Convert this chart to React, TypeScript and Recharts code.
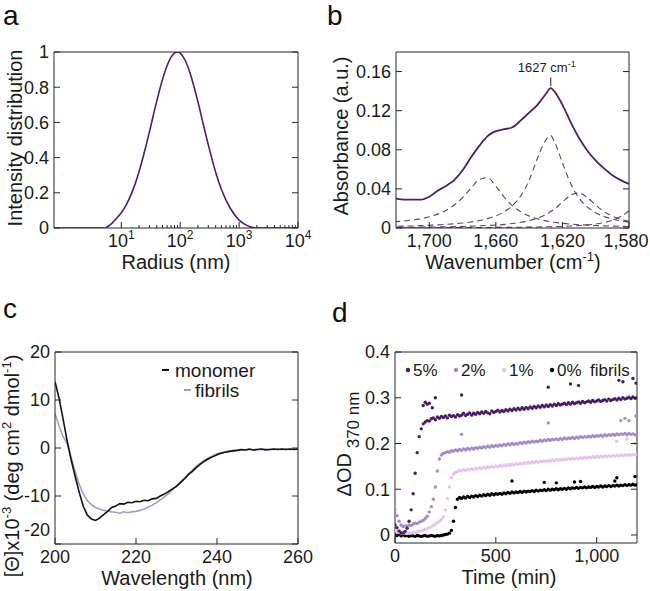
import React from "react";
import {
  LineChart,
  Line,
  ScatterChart,
  Scatter,
  XAxis,
  YAxis,
  ReferenceLine,
} from "recharts";

const FONT = '"Liberation Sans", Arial, Helvetica, sans-serif';
const INK = "#262626";
const PURPLE = "#4a1f6e";
const DASHED = "#5b3f80";

// a: size distribution
const radiusNm = [0.72, 1, 2, 3, 4, 5, 5.5, 6, 7, 8, 10, 12, 15, 20, 25, 30, 40, 50, 60, 70, 80, 90, 100, 120, 150, 200, 250, 300, 400, 500, 700, 1000, 1300, 1600, 1900, 3000, 10000];
const intensity = [0, 0, 0, 0, 0, 0, 0.002, 0.01, 0.028, 0.05, 0.087, 0.129, 0.198, 0.32, 0.439, 0.546, 0.721, 0.843, 0.923, 0.971, 0.994, 1.0, 0.993, 0.956, 0.871, 0.717, 0.581, 0.472, 0.317, 0.22, 0.115, 0.045, 0.018, 0.005, 0, 0, 0];
const radiusMajor = [10, 100, 1000, 10000];
const radiusMinor = [20, 30, 40, 50, 60, 70, 80, 90, 200, 300, 400, 500, 600, 700, 800, 900, 2000, 3000, 4000, 5000, 6000, 7000, 8000, 9000];
const intensityTicks = [0, 0.2, 0.4, 0.6, 0.8, 1];

// b: FTIR amide I with fitted bands
const waveCm = [1580, 1585, 1590, 1595, 1600, 1605, 1610, 1615, 1620, 1625, 1627, 1630, 1635, 1640, 1645, 1650, 1655, 1660, 1665, 1670, 1675, 1680, 1685, 1690, 1695, 1700, 1705, 1710, 1715, 1720];
const absorbance = [0.045, 0.049, 0.054, 0.061, 0.069, 0.079, 0.092, 0.108, 0.126, 0.14, 0.143, 0.137, 0.126, 0.118, 0.11, 0.103, 0.101, 0.099, 0.094, 0.084, 0.072, 0.059, 0.049, 0.043, 0.038, 0.032, 0.029, 0.029, 0.029, 0.03];
const band1667 = [0.0015, 0.0017, 0.0019, 0.0022, 0.0025, 0.0029, 0.0034, 0.004, 0.0048, 0.0059, 0.0064, 0.0073, 0.0094, 0.0123, 0.0165, 0.0228, 0.0317, 0.0427, 0.0515, 0.0495, 0.0405, 0.031, 0.0235, 0.018, 0.0142, 0.0115, 0.0095, 0.0082, 0.0072, 0.0065];
const band1627 = [0.006, 0.0073, 0.0092, 0.0118, 0.0156, 0.0214, 0.0306, 0.0452, 0.0667, 0.089, 0.0945, 0.09, 0.0715, 0.0489, 0.033, 0.0229, 0.0166, 0.0124, 0.0096, 0.0076, 0.0062, 0.0051, 0.0043, 0.0037, 0.0032, 0.0027, 0.0024, 0.0021, 0.0019, 0.0017];
const band1611 = [0.0068, 0.009, 0.0122, 0.0168, 0.0234, 0.031, 0.0358, 0.0336, 0.0265, 0.0192, 0.0168, 0.0138, 0.0101, 0.0076, 0.0059, 0.0046, 0.0037, 0.0031, 0.0026, 0.0022, 0.0019, 0.0016, 0.0014, 0.0013, 0.0011, 0.001, 0.0009, 0.0008, 0.0007, 0.0007];
const band1570 = [0.0177, 0.0117, 0.0079, 0.0056, 0.0041, 0.0032, 0.0025, 0.002, 0.0016, 0.0014, 0.0013, 0.0012, 0.001, 0.0009, 0.0008, 0.0007, 0.0006, 0.0006, 0.0005, 0.0005, 0.0004, 0.0004, 0.0004, 0.0003, 0.0003, 0.0003, 0.0003, 0.0003, 0.0002, 0.0002];
const waveTicks = [1700, 1660, 1620, 1580];
const absTicks = [0, 0.04, 0.08, 0.12, 0.16];

// c: CD spectra
const wavelengthNm = [200, 201, 202, 203, 204, 205, 206, 207, 208, 209, 210, 211, 212, 213, 214, 215, 216, 217, 218, 219, 220, 221, 222, 223, 224, 225, 226, 227, 228, 229, 230, 231, 232, 233, 234, 235, 236, 237, 238, 239, 240, 241, 242, 243, 244, 245, 246, 247, 248, 249, 250, 251, 252, 253, 254, 255, 256, 257, 258, 259, 260];
const monomerCD = [13.8, 10.4, 6.0, 1.5, -2.5, -6.0, -9.3, -12.2, -14.0, -14.8, -15.1, -14.6, -13.9, -13.2, -12.4, -12.1, -11.6, -11.7, -11.3, -11.4, -11.1, -11.2, -10.9, -11.0, -10.6, -10.5, -10.0, -9.6, -9.1, -8.5, -8.0, -7.2, -6.4, -5.5, -4.8, -4.0, -3.3, -2.7, -2.2, -1.8, -1.4, -1.1, -0.9, -0.7, -0.6, -0.5, -0.3, -0.4, -0.2, -0.4, -0.3, -0.2, -0.4, -0.3, -0.2, -0.3, -0.2, -0.3, -0.2, -0.3, -0.2];
const fibrilCD = [7.2, 4.6, 2.4, 0.9, -2.0, -5.0, -7.6, -9.6, -11.0, -11.8, -12.4, -12.7, -13.0, -13.1, -13.3, -13.4, -13.6, -13.3, -13.5, -13.3, -13.2, -13.0, -12.7, -12.3, -11.9, -11.4, -10.8, -10.2, -9.5, -8.7, -7.9, -7.0, -6.2, -5.3, -4.5, -3.8, -3.1, -2.5, -2.0, -1.6, -1.2, -1.0, -0.8, -0.7, -0.5, -0.5, -0.4, -0.4, -0.3, -0.4, -0.3, -0.3, -0.2, -0.3, -0.3, -0.2, -0.3, -0.2, -0.3, -0.2, -0.3];
const wavelengthTicks = [200, 220, 240, 260];
const cdTicks = [-20, -10, 0, 10, 20];

// d: turbidity kinetics
const timeMin = [
  0, 10, 20, 30, 40, 50, 60, 70, 80, 90,
  100, 110, 120, 130, 140, 150, 160, 170, 180, 190,
  200, 210, 220, 230, 240, 250, 260, 270, 280, 290,
  300, 310, 320, 330, 340, 350, 360, 370, 380, 390,
  400, 410, 420, 430, 440, 450, 460, 470, 480, 490,
  500, 510, 520, 530, 540, 550, 560, 570, 580, 590,
  600, 610, 620, 630, 640, 650, 660, 670, 680, 690,
  700, 710, 720, 730, 740, 750, 760, 770, 780, 790,
  800, 810, 820, 830, 840, 850, 860, 870, 880, 890,
  900, 910, 920, 930, 940, 950, 960, 970, 980, 990,
  1000, 1010, 1020, 1030, 1040, 1050, 1060, 1070, 1080, 1090,
  1100, 1110, 1120, 1130, 1140, 1150, 1160, 1170, 1180, 1190,
  1200,
];
const od5 = [
  0.022, 0.016, 0.009, 0.005, 0.004, 0.008, 0.015, 0.03, 0.055, 0.09,
  0.135, 0.18, 0.215, 0.232, 0.243, 0.247, 0.25, 0.249, 0.254, 0.256,
  0.252, 0.258, 0.255, 0.259, 0.257, 0.26, 0.256, 0.262, 0.259, 0.261,
  0.258, 0.263, 0.26, 0.262, 0.266, 0.261, 0.264, 0.267, 0.262, 0.266,
  0.264, 0.268, 0.265, 0.269, 0.266, 0.27, 0.267, 0.265, 0.271, 0.268,
  0.27, 0.273, 0.269, 0.272, 0.27, 0.274, 0.271, 0.275, 0.272, 0.276,
  0.273, 0.277, 0.274, 0.278, 0.275, 0.279, 0.276, 0.28, 0.277, 0.281,
  0.278, 0.282, 0.279, 0.283, 0.28, 0.284, 0.281, 0.285, 0.282, 0.286,
  0.283, 0.287, 0.284, 0.286, 0.288, 0.285, 0.289, 0.286, 0.29, 0.287,
  0.289, 0.291, 0.288, 0.292, 0.289, 0.291, 0.293, 0.29, 0.294, 0.291,
  0.293, 0.295, 0.292, 0.294, 0.296, 0.293, 0.297, 0.294, 0.296, 0.298,
  0.295, 0.299, 0.296, 0.3, 0.297, 0.299, 0.301, 0.298, 0.302, 0.299,
  0.3,
];
const od2 = [
  0.055, 0.042, 0.03, 0.022, 0.018, 0.02, 0.019, 0.022, 0.021, 0.024,
  0.026, 0.025, 0.028, 0.03, 0.032, 0.036, 0.041, 0.05, 0.062, 0.078,
  0.105, 0.14, 0.166, 0.175, 0.178, 0.18, 0.182, 0.181, 0.184, 0.183,
  0.186, 0.184, 0.187, 0.185, 0.188, 0.186, 0.189, 0.187, 0.19, 0.188,
  0.191, 0.189, 0.192, 0.19, 0.193, 0.191, 0.194, 0.192, 0.195, 0.193,
  0.196, 0.194, 0.197, 0.195, 0.198, 0.196, 0.199, 0.197, 0.2, 0.198,
  0.2, 0.199, 0.202, 0.2, 0.203, 0.201, 0.204, 0.202, 0.205, 0.203,
  0.205, 0.204, 0.207, 0.205, 0.208, 0.206, 0.209, 0.207, 0.209, 0.208,
  0.21, 0.208, 0.211, 0.209, 0.212, 0.21, 0.212, 0.211, 0.213, 0.211,
  0.214, 0.212, 0.215, 0.213, 0.215, 0.214, 0.216, 0.214, 0.217, 0.215,
  0.217, 0.216, 0.218, 0.216, 0.219, 0.217, 0.219, 0.218, 0.22, 0.218,
  0.221, 0.219, 0.221, 0.22, 0.222, 0.219, 0.222, 0.22, 0.221, 0.219,
  0.22,
];
const od1 = [
  0.01, 0.008, 0.006, 0.004, 0.003, 0.004, 0.003, 0.005, 0.004, 0.006,
  0.005, 0.007, 0.008, 0.009, 0.011, 0.012, 0.014, 0.016, 0.018, 0.021,
  0.024, 0.027, 0.03, 0.034, 0.04, 0.055, 0.08, 0.105, 0.125, 0.133,
  0.137, 0.139, 0.141, 0.14, 0.143, 0.141, 0.144, 0.142, 0.145, 0.143,
  0.146, 0.144, 0.147, 0.145, 0.148, 0.146, 0.149, 0.147, 0.15, 0.148,
  0.151, 0.149, 0.152, 0.15, 0.153, 0.151, 0.154, 0.152, 0.155, 0.153,
  0.156, 0.154, 0.157, 0.155, 0.158, 0.156, 0.159, 0.157, 0.16, 0.158,
  0.161, 0.159, 0.161, 0.16, 0.162, 0.161, 0.163, 0.161, 0.164, 0.162,
  0.165, 0.163, 0.165, 0.164, 0.166, 0.165, 0.167, 0.165, 0.168, 0.166,
  0.168, 0.167, 0.169, 0.167, 0.17, 0.168, 0.17, 0.169, 0.171, 0.169,
  0.172, 0.17, 0.172, 0.171, 0.173, 0.171, 0.173, 0.172, 0.174, 0.172,
  0.174, 0.173, 0.175, 0.173, 0.175, 0.174, 0.176, 0.174, 0.176, 0.175,
  0.176,
];
const od0 = [
  0.0, -0.001, 0.001, -0.002, 0.0, -0.002, -0.001, -0.003, -0.001, -0.002,
  -0.003, -0.001, -0.002, -0.003, -0.002, -0.001, -0.003, -0.002, -0.001, -0.002,
  -0.003, -0.001, -0.002, -0.001, 0.0, 0.001, 0.002, 0.004, 0.01, 0.03,
  0.06, 0.078, 0.082, 0.08, 0.083, 0.081, 0.084, 0.082, 0.085, 0.083,
  0.086, 0.084, 0.087, 0.085, 0.088, 0.086, 0.089, 0.087, 0.09, 0.088,
  0.09, 0.089, 0.091, 0.089, 0.092, 0.09, 0.093, 0.091, 0.094, 0.092,
  0.094, 0.093, 0.095, 0.093, 0.096, 0.094, 0.096, 0.095, 0.097, 0.095,
  0.098, 0.096, 0.098, 0.097, 0.099, 0.097, 0.1, 0.098, 0.1, 0.099,
  0.101, 0.099, 0.101, 0.1, 0.102, 0.1, 0.103, 0.101, 0.103, 0.102,
  0.104, 0.102, 0.104, 0.103, 0.105, 0.103, 0.105, 0.104, 0.106, 0.104,
  0.106, 0.105, 0.107, 0.105, 0.107, 0.106, 0.108, 0.106, 0.108, 0.107,
  0.109, 0.107, 0.109, 0.108, 0.11, 0.108, 0.11, 0.109, 0.111, 0.109,
  0.11,
];
// stray readings above each trace
const stray5Time = [140, 150, 160, 170, 185, 200, 330, 760, 870, 910, 1110, 1130, 1180, 1195];
const stray5 = [0.283, 0.29, 0.286, 0.288, 0.278, 0.3, 0.306, 0.323, 0.33, 0.327, 0.338, 0.335, 0.342, 0.332];
const stray2Time = [330, 760, 1120, 1140, 1160, 1195];
const stray2 = [0.22, 0.245, 0.25, 0.255, 0.25, 0.26];
const stray1Time = [1100, 1150, 1190];
const stray1 = [0.205, 0.21, 0.2];
const stray0Time = [580, 740, 800, 890, 920, 1090, 1100, 1190];
const stray0 = [0.118, 0.115, 0.114, 0.116, 0.117, 0.118, 0.125, 0.128];
const timeTicks = [0, 500, 1000];
const odTicks = [0, 0.1, 0.2, 0.3, 0.4];

const sizeData = radiusNm.map((r, i) => ({ r, v: intensity[i] }));
const ftirData = waveCm.map((w, i) => ({
  w,
  a: absorbance[i],
  b1: band1667[i],
  b2: band1627[i],
  b3: band1611[i],
  b4: band1570[i],
}));
const cdData = wavelengthNm.map((nm, i) => ({ nm, mono: monomerCD[i], fib: fibrilCD[i] }));
const points = (t: number[], v: number[], st: number[], sv: number[]) => [
  ...t.map((x, i) => ({ t: x, v: v[i] })),
  ...st.map((x, i) => ({ t: x, v: sv[i] })),
];
const series = [
  { name: "0%", color: "#000000", pts: points(timeMin, od0, stray0Time, stray0) },
  { name: "1%", color: "#e6c6e8", pts: points(timeMin, od1, stray1Time, stray1) },
  { name: "2%", color: "#a48cca", pts: points(timeMin, od2, stray2Time, stray2) },
  { name: "5%", color: "#4a1a6b", pts: points(timeMin, od5, stray5Time, stray5) },
];

const tickText = { fontSize: 18, fill: "#1a1a1a", fontFamily: FONT };
type Side = "bottom" | "top" | "left" | "right";

// inward ticks like the original box axes; labels only on bottom / left
const axisTick =
  (side: Side, fmt?: (v: number) => React.ReactNode, isMinor?: (v: number) => boolean, shift?: (v: number) => number) =>
  (p: any) => {
    const { x, y, payload } = p;
    const v = payload.value;
    const minor = isMinor ? isMinor(v) : false;
    const len = minor ? 3 : 6;
    const d = { bottom: [0, -len], top: [0, len], left: [len, 0], right: [-len, 0] }[side];
    const s = shift ? shift(v) : 0;
    let label: React.ReactNode = null;
    if (fmt && !minor && side === "bottom") {
      label = (
        <text x={x + s} y={y + 19} textAnchor="middle" {...tickText}>
          {fmt(v)}
        </text>
      );
    }
    if (fmt && side === "left") {
      label = (
        <text x={x - 5} y={y + s} dy="0.36em" textAnchor="end" {...tickText}>
          {fmt(v)}
        </text>
      );
    }
    return (
      <g>
        <line x1={x} y1={y} x2={x + d[0]} y2={y + d[1]} stroke={INK} strokeWidth={1} />
        {label}
      </g>
    );
  };

// axes need at least 1px of size or recharts skips them, so margins are 1px short
const box = { stroke: INK, strokeWidth: 1 };
const bare = { tickSize: 0, tickMargin: 0, tickLine: false, axisLine: box, interval: 0 as const, allowDataOverflow: true };
const plain = (v: number) => String(v);
const comma = (v: number) => v.toLocaleString("en-US");
const pow10 = (v: number) => (
  <>
    <tspan>10</tspan>
    <tspan dy={-8} fontSize={12}>
      {Math.round(Math.log10(v))}
    </tspan>
  </>
);
const isMinorR = (v: number) => !radiusMajor.includes(v);

const SizeChart = () => (
  <LineChart width={325} height={280} data={sizeData} margin={{ top: 51, right: 26, bottom: 51, left: 53 }}>
    <XAxis dataKey="r" type="number" scale="log" domain={[0.72, 10000]} ticks={[...radiusMajor, ...radiusMinor]}
      height={1} {...bare} tick={axisTick("bottom", pow10, isMinorR)} />
    <XAxis xAxisId="top" orientation="top" type="number" scale="log" domain={[0.72, 10000]}
      ticks={[...radiusMajor, ...radiusMinor]} height={1} {...bare} tick={axisTick("top", undefined, isMinorR)} />
    <YAxis type="number" domain={[0, 1]} ticks={intensityTicks} width={1} {...bare} tick={axisTick("left", plain)} />
    <YAxis yAxisId="right" orientation="right" type="number" domain={[0, 1]} ticks={intensityTicks} width={1}
      {...bare} tick={axisTick("right")} />
    <Line dataKey="v" type="monotone" stroke={PURPLE} strokeWidth={1.6} dot={false} isAnimationActive={false} />
  </LineChart>
);

const FtirChart = () => (
  <LineChart width={325} height={280} data={ftirData} margin={{ top: 51, right: 20, bottom: 51, left: 70 }}>
    {/* last label kept inside the figure edge */}
    <XAxis dataKey="w" type="number" reversed domain={[1580, 1720]} ticks={waveTicks} height={1} {...bare}
      tick={axisTick("bottom", comma, undefined, (v) => (v === 1580 ? -3 : 0))} />
    <XAxis xAxisId="top" orientation="top" type="number" reversed domain={[1580, 1720]} ticks={waveTicks}
      height={1} {...bare} tick={axisTick("top")} />
    <YAxis type="number" domain={[0, 0.18]} ticks={absTicks} width={1} {...bare} tick={axisTick("left", plain)} />
    <YAxis yAxisId="right" orientation="right" type="number" domain={[0, 0.18]} ticks={absTicks} width={1}
      {...bare} tick={axisTick("right")} />
    {["b4", "b3", "b1", "b2"].map((k) => (
      <Line key={k} dataKey={k} type="monotone" stroke={DASHED} strokeWidth={1.1} strokeDasharray="6 4"
        dot={false} isAnimationActive={false} />
    ))}
    <Line dataKey="a" type="monotone" stroke={PURPLE} strokeWidth={1.8} dot={false} isAnimationActive={false} />
    <ReferenceLine
      segment={[{ x: 1627, y: 0.145 }, { x: 1627, y: 0.154 }]}
      stroke={INK}
      strokeWidth={1}
      label={(p: any) => (
        <text x={p.viewBox.x - 4} y={p.viewBox.y - 5} textAnchor="middle" fontSize={13} fill="#1a1a1a" fontFamily={FONT}>
          1627 cm<tspan dy={-5} fontSize={9}>-1</tspan>
        </text>
      )}
    />
  </LineChart>
);

const CdChart = () => (
  <LineChart width={325} height={311} data={cdData} margin={{ top: 71, right: 26, bottom: 46, left: 54 }}>
    <XAxis dataKey="nm" type="number" domain={[200, 260]} ticks={wavelengthTicks} height={1} {...bare}
      tick={axisTick("bottom", plain)} />
    <XAxis xAxisId="top" orientation="top" type="number" domain={[200, 260]} ticks={wavelengthTicks} height={1}
      {...bare} tick={axisTick("top")} />
    {/* the -20 label sits clear of the corner, as in the figure */}
    <YAxis type="number" domain={[-20, 20]} ticks={cdTicks} width={1} {...bare}
      tick={axisTick("left", plain, undefined, (v) => (v === -20 ? -14 : 0))} />
    <YAxis yAxisId="right" orientation="right" type="number" domain={[-20, 20]} ticks={cdTicks} width={1}
      {...bare} tick={axisTick("right")} />
    <Line dataKey="fib" type="linear" stroke="#a998cd" strokeWidth={1.6} dot={false} isAnimationActive={false} />
    <Line dataKey="mono" type="linear" stroke="#111111" strokeWidth={1.6} dot={false} isAnimationActive={false} />
  </LineChart>
);

const KineticsChart = () => (
  <ScatterChart width={325} height={311} margin={{ top: 71, right: 12, bottom: 47, left: 69 }}>
    <XAxis dataKey="t" type="number" domain={[0, 1200]} ticks={timeTicks} height={1} {...bare}
      tick={axisTick("bottom", comma)} />
    <XAxis xAxisId="top" orientation="top" type="number" domain={[0, 1200]} ticks={timeTicks} height={1} {...bare}
      tick={axisTick("top")} />
    <YAxis dataKey="v" type="number" domain={[-0.0175, 0.4]} ticks={odTicks} width={1} {...bare}
      tick={axisTick("left", plain)} />
    <YAxis yAxisId="right" orientation="right" type="number" domain={[-0.0175, 0.4]} ticks={odTicks} width={1}
      {...bare} tick={axisTick("right")} />
    {series.map((s) => (
      <Scatter key={s.name} name={s.name} data={s.pts} isAnimationActive={false}
        shape={(p: any) => <circle cx={p.cx} cy={p.cy} r={1.7} fill={s.color} />} />
    ))}
  </ScatterChart>
);

const label = { fontSize: 20, fill: "#1a1a1a", fontFamily: FONT };
const letter = { fontSize: 28, fill: "#111", fontFamily: FONT };
const legendC = { fontSize: 19, fill: "#1a1a1a", fontFamily: FONT };
const legendD = { fontSize: 17, fill: "#1a1a1a", fontFamily: FONT };

const Overlay = () => (
  <svg width={650} height={591} style={{ position: "absolute", left: 0, top: 0, pointerEvents: "none" }}>
    <text x={3} y={25} {...letter}>a</text>
    <text x={327} y={25} {...letter}>b</text>
    <text x={3} y={318} {...letter}>c</text>
    <text x={332} y={322} {...letter}>d</text>

    <text x={176} y={269} textAnchor="middle" {...label}>Radius (nm)</text>
    <text transform="translate(15,138) rotate(-90)" textAnchor="middle" dy="0.35em" {...label}>Intensity distribution</text>

    <text x={513} y={269} textAnchor="middle" {...label}>
      Wavenumber (cm<tspan dy={-8} fontSize={13}>-1</tspan><tspan dy={8}>)</tspan>
    </text>
    <text transform="translate(341,136) rotate(-90)" textAnchor="middle" dy="0.35em" {...label}>Absorbance (a.u.)</text>

    <text x={177} y={585} textAnchor="middle" {...label}>Wavelength (nm)</text>
    <text transform="translate(12,466) rotate(-90)" textAnchor="middle" dy="0.35em" {...label}>
      [Θ]x10<tspan dy={-8} fontSize={13}>-3</tspan>
      <tspan dy={8}> (deg cm</tspan>
      <tspan dy={-8} fontSize={13}>2</tspan>
      <tspan dy={8}> dmol</tspan>
      <tspan dy={-8} fontSize={13}>-1</tspan>
      <tspan dy={8}>)</tspan>
    </text>

    <text x={509} y={584} textAnchor="middle" {...label}>Time (min)</text>
    <text transform="translate(344,444) rotate(-90)" textAnchor="middle" dy="0.35em" {...label}>
      ΔOD<tspan dy={8} fontSize={17}> 370 nm</tspan>
    </text>

    {/* c legend */}
    <line x1={162} x2={169} y1={370} y2={370} stroke="#111" strokeWidth={2} />
    <text x={175} y={370} dy="0.35em" {...legendC}>monomer</text>
    <line x1={184} x2={191} y1={390} y2={390} stroke="#a998cd" strokeWidth={2} />
    <text x={195} y={390} dy="0.35em" {...legendC}>fibrils</text>

    {/* d legend */}
    {[
      { x: 408, c: "#4a1a6b", t: "5%" },
      { x: 456, c: "#a48cca", t: "2%" },
      { x: 504, c: "#e6c6e8", t: "1%" },
      { x: 552, c: "#000000", t: "0%" },
    ].map((it) => (
      <g key={it.t}>
        <circle cx={it.x} cy={370} r={2.2} fill={it.c} />
        <text x={it.x + 5} y={370} dy="0.35em" {...legendD}>{it.t}</text>
      </g>
    ))}
    <text x={590} y={370} dy="0.35em" {...legendD}>fibrils</text>
  </svg>
);

export default function App() {
  return (
    <div style={{ position: "absolute", left: 0, top: 0, width: 650, height: 591, background: "#fff", fontFamily: FONT }}>
      <div style={{ position: "absolute", left: 0, top: 0 }}>
        <SizeChart />
      </div>
      <div style={{ position: "absolute", left: 325, top: 0 }}>
        <FtirChart />
      </div>
      <div style={{ position: "absolute", left: 0, top: 280 }}>
        <CdChart />
      </div>
      <div style={{ position: "absolute", left: 325, top: 280 }}>
        <KineticsChart />
      </div>
      <Overlay />
    </div>
  );
}
